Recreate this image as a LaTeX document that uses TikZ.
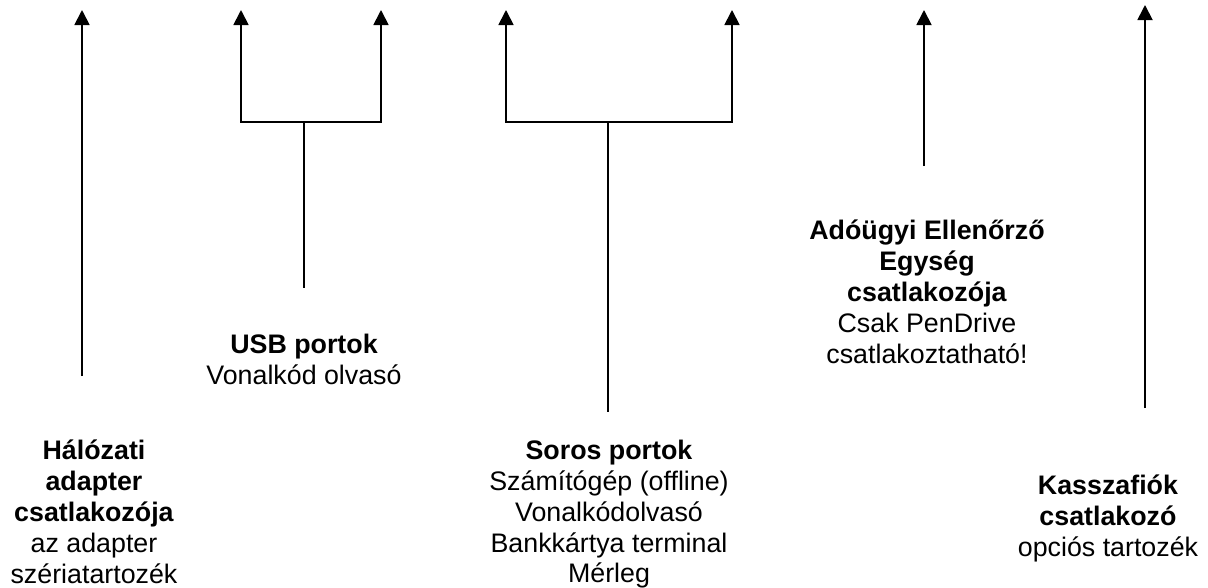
\documentclass[tikz,border=0pt]{standalone}
\usepackage{fontspec}
\setmainfont{Liberation Sans}
\usetikzlibrary{arrows.meta}
\begin{document}
\begin{tikzpicture}[x=1pt,y=-1pt,
  wire/.style={line width=1.8pt,line cap=rect},
  arr/.style={line width=1.8pt,-{Triangle[length=15pt,width=15pt]}},
  lbl/.style={anchor=north,inner sep=0pt,align=center,font=\fontsize{26.8}{30.8}\selectfont}]
\useasboundingbox (0,0) rectangle (1208,587);
% Halozati adapter
\coordinate (h0) at (82,376);
\coordinate (h1) at (82,10);
\draw[arr] (h0) -- (h1);
% USB
\coordinate (u0) at (304,287);
\coordinate (uj) at (304,122);
\coordinate (ul) at (241,122);
\coordinate (ur) at (381,122);
\coordinate (ult) at (241,10);
\coordinate (urt) at (381,10);
\draw[wire] (u0) -- (uj);
\draw[wire] (ul) -- (ur);
\draw[arr] (ul) -- (ult);
\draw[arr] (ur) -- (urt);
% Soros
\coordinate (s0) at (608,411);
\coordinate (sj) at (608,122);
\coordinate (sl) at (506,122);
\coordinate (sr) at (732,122);
\coordinate (slt) at (506,10);
\coordinate (srt) at (732,10);
\draw[wire] (s0) -- (sj);
\draw[wire] (sl) -- (sr);
\draw[arr] (sl) -- (slt);
\draw[arr] (sr) -- (srt);
% AEE
\coordinate (a0) at (924,166);
\coordinate (a1) at (924,10);
\draw[arr] (a0) -- (a1);
% Kassza
\coordinate (k0) at (1145,408);
\coordinate (k1) at (1145,5);
\draw[arr] (k0) -- (k1);
% labels
\node[lbl] (th) at (94,440) {\textbf{Hálózati}\\\textbf{adapter}\\\textbf{csatlakozója}\\az adapter\\szériatartozék};
\node[lbl] (tu) at (304,334) {\textbf{USB portok}\\Vonalkód olvasó};
\node[lbl] (ts) at (609,440) {\textbf{Soros portok}\\Számítógép (offline)\\Vonalkódolvasó\\Bankkártya terminal\\Mérleg};
\node[lbl] (ta) at (927,220) {\textbf{Adóügyi Ellenőrző}\\\textbf{Egység}\\\textbf{csatlakozója}\\Csak PenDrive\\csatlakoztatható!};
\node[lbl] (tk) at (1108,475) {\textbf{Kasszafiók}\\\textbf{csatlakozó}\\opciós tartozék};
\end{tikzpicture}
\end{document}
